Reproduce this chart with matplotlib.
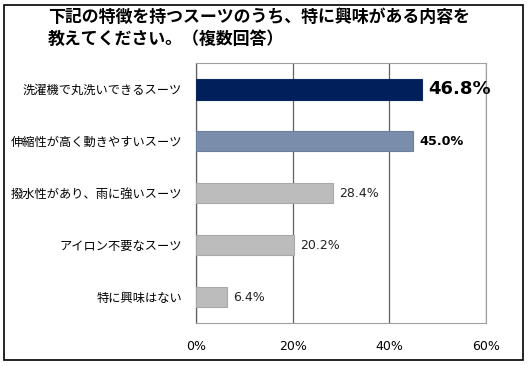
import matplotlib
matplotlib.use("Agg")
import matplotlib.pyplot as plt
from matplotlib.patches import Rectangle

plt.rcParams['font.family'] = ['Noto Sans CJK JP', 'DejaVu Sans']

# data (top to bottom)
categories = ['洗濯機で丸洗いできるスーツ', '伸縮性が高く動きやすいスーツ',
              '撥水性があり、雨に強いスーツ', 'アイロン不要なスーツ', '特に興味はない']
values = [46.8, 45.0, 28.4, 20.2, 6.4]
colors = ['#001f5b', '#7a8eab', '#bcbcbc', '#bcbcbc', '#bcbcbc']
edges = ['#0d2a60', '#6a7f9e', '#a8a8a8', '#a8a8a8', '#a8a8a8']
xticks = [0, 20, 40, 60]
title = '下記の特徴を持つスーツのうち、特に興味がある内容を\n教えてください。（複数回答）'

fig = plt.figure(figsize=(5.31, 3.66), dpi=100)
ax = fig.add_axes([0.369, 0.1175, 0.546, 0.710])

y = list(range(len(categories)))
ax.barh(y, values, height=0.4, color=colors, edgecolor=edges, linewidth=0.8, zorder=3)
ax.set_ylim(len(categories) - 0.5, -0.5)
ax.set_xlim(0, 60)
ax.set_yticks(y)
ax.set_yticklabels(categories, fontsize=8.8)
ax.set_xticks(xticks)
ax.set_xticklabels([f'{t}%' for t in xticks], fontsize=9, family='DejaVu Sans')
ax.tick_params(length=0)
ax.tick_params(axis='y', pad=10)
ax.tick_params(axis='x', pad=12)
ax.grid(axis='x', color='#606060', linewidth=0.9, zorder=0)
for s in ['top', 'right', 'bottom']:
    ax.spines[s].set_color('#a0a0a0')
    ax.spines[s].set_linewidth(0.8)
ax.spines['left'].set_color('#606060')
ax.spines['left'].set_linewidth(0.9)

# value labels
for i, v in enumerate(values):
    if i == 0:
        ax.text(v + 1.3, i, f'{v:.1f}%', va='center', ha='left', fontsize=13,
                fontweight='bold', family='DejaVu Sans')
    elif i == 1:
        ax.text(v + 1.3, i, f'{v:.1f}%', va='center', ha='left', fontsize=9.2,
                fontweight='bold', family='DejaVu Sans')
    else:
        ax.text(v + 1.3, i, f'{v:.1f}%', va='center', ha='left', fontsize=9,
                family='DejaVu Sans', color='#222222')

fig.text(48 / 531, 1 - 8 / 366, title, ha='left', va='top', fontsize=12.2,
         fontweight='bold', linespacing=1.3)

# outer frame
fig.patches.append(Rectangle((4 / 531, 6 / 366), 519 / 531, 355 / 366,
                             transform=fig.transFigure, fill=False,
                             edgecolor='black', linewidth=1.2))

fig.savefig('out.png', dpi=100)
